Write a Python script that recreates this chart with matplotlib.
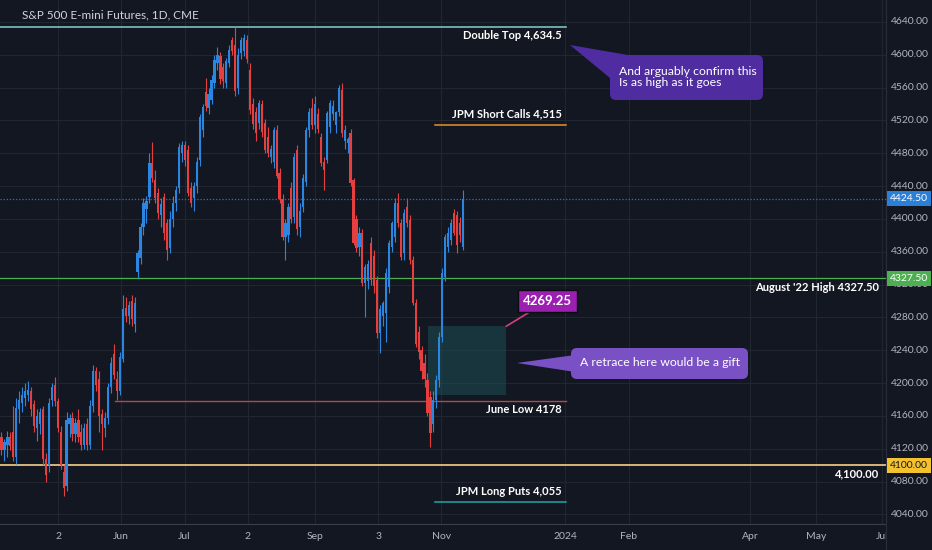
import matplotlib
matplotlib.use('Agg')

import numpy as np
import matplotlib.pyplot as plt
from matplotlib.patches import Rectangle, FancyBboxPatch, Polygon

# ============================================================================
# DATA
# ============================================================================
opens = [4135, 4118, 4125, 4135, 4140, 4110, 4168, 4176, 4182, 4186, 4190, 4175, 4145,
         4150, 4168, 4108, 4100, 4180, 4198, 4178, 4140, 4092, 4075, 4150, 4158, 4138,
         4155, 4140, 4125, 4150, 4125, 4172, 4215, 4205, 4162, 4145, 4158, 4195, 4235,
         4205, 4190, 4230, 4292, 4282, 4300, 4272, 4336, 4352, 4390, 4412, 4427, 4468,
         4448, 4432, 4405, 4427, 4395, 4365, 4400, 4420, 4438, 4480, 4490, 4484, 4438,
         4425, 4440, 4472, 4508, 4555, 4535, 4545, 4566, 4590, 4598, 4585, 4566, 4590,
         4618, 4612, 4560, 4602, 4605, 4618, 4582, 4540, 4530, 4517, 4540, 4517, 4500,
         4475, 4470, 4508, 4456, 4424, 4378, 4380, 4438, 4402, 4484, 4390, 4415, 4445,
         4508, 4535, 4515, 4528, 4500, 4470, 4472, 4512, 4528, 4515, 4530, 4557, 4495,
         4492, 4505, 4447, 4400, 4366, 4383, 4322, 4325, 4371, 4355, 4326, 4261, 4282,
         4285, 4317, 4366, 4378, 4420, 4395, 4358, 4414, 4399, 4350, 4298, 4262, 4240,
         4225, 4204, 4183, 4150, 4180, 4204, 4256, 4329, 4366, 4374, 4407, 4405, 4395,
         4366]
highs = [4140, 4132, 4142, 4140, 4172, 4182, 4190, 4195, 4200, 4203, 4195, 4180, 4168,
         4170, 4172, 4115, 4182, 4200, 4207, 4182, 4148, 4100, 4165, 4162, 4165, 4158,
         4168, 4150, 4152, 4158, 4180, 4222, 4220, 4215, 4168, 4165, 4200, 4232, 4248,
         4215, 4238, 4308, 4305, 4300, 4308, 4305, 4362, 4395, 4425, 4428, 4480, 4494,
         4460, 4438, 4425, 4432, 4400, 4410, 4428, 4440, 4492, 4495, 4495, 4490, 4445,
         4445, 4475, 4528, 4540, 4572, 4560, 4575, 4600, 4610, 4604, 4590, 4596, 4612,
         4622, 4634.5, 4608, 4622, 4625, 4624, 4590, 4548, 4536, 4545, 4545, 4522, 4512,
         4490, 4512, 4515, 4462, 4430, 4400, 4420, 4445, 4480, 4490, 4420, 4455, 4512,
         4535, 4548, 4550, 4535, 4505, 4475, 4532, 4545, 4545, 4532, 4563, 4566, 4515,
         4500, 4510, 4450, 4405, 4390, 4388, 4345, 4350, 4378, 4362, 4330, 4295, 4300,
         4340, 4375, 4398, 4425, 4432, 4400, 4412, 4425, 4405, 4355, 4302, 4270, 4245,
         4235, 4212, 4190, 4190, 4210, 4262, 4340, 4382, 4390, 4400, 4412, 4410, 4402,
         4435]
lows = [4112, 4105, 4110, 4118, 4105, 4102, 4152, 4165, 4172, 4178, 4160, 4140, 4130,
        4138, 4100, 4080, 4092, 4172, 4172, 4140, 4095, 4062, 4068, 4135, 4130, 4128,
        4128, 4118, 4120, 4118, 4120, 4165, 4190, 4140, 4118, 4135, 4150, 4188, 4205,
        4180, 4185, 4226, 4275, 4272, 4270, 4262, 4328, 4345, 4380, 4395, 4420, 4445,
        4420, 4400, 4390, 4375, 4350, 4358, 4390, 4410, 4432, 4470, 4465, 4428, 4415,
        4410, 4432, 4465, 4500, 4532, 4528, 4540, 4560, 4582, 4565, 4560, 4560, 4585,
        4600, 4550, 4552, 4595, 4598, 4590, 4528, 4510, 4495, 4510, 4500, 4480, 4476,
        4468, 4462, 4450, 4420, 4375, 4350, 4372, 4395, 4395, 4380, 4378, 4408, 4440,
        4500, 4510, 4505, 4505, 4465, 4435, 4468, 4505, 4520, 4505, 4525, 4500, 4485,
        4480, 4440, 4368, 4360, 4355, 4318, 4280, 4315, 4320, 4310, 4255, 4237, 4270,
        4250, 4310, 4360, 4372, 4390, 4350, 4350, 4390, 4345, 4295, 4244, 4230, 4205,
        4195, 4160, 4122, 4140, 4170, 4195, 4250, 4325, 4360, 4368, 4380, 4358, 4372,
        4362]
closes = [4118, 4128, 4135, 4124, 4110, 4170, 4180, 4185, 4190, 4192, 4168, 4148, 4160,
          4165, 4108, 4088, 4176, 4195, 4178, 4145, 4100, 4072, 4155, 4158, 4138, 4152,
          4134, 4125, 4145, 4125, 4172, 4215, 4198, 4160, 4150, 4158, 4195, 4225, 4210,
          4190, 4232, 4290, 4282, 4295, 4278, 4298, 4358, 4390, 4420, 4422, 4468, 4450,
          4425, 4407, 4418, 4383, 4362, 4400, 4420, 4435, 4488, 4490, 4472, 4432, 4420,
          4440, 4470, 4524, 4536, 4538, 4552, 4569, 4594, 4600, 4570, 4568, 4592, 4606,
          4605, 4556, 4600, 4618, 4620, 4595, 4533, 4516, 4505, 4541, 4506, 4484, 4480,
          4485, 4508, 4452, 4424, 4378, 4395, 4415, 4400, 4476, 4388, 4410, 4450, 4508,
          4530, 4515, 4540, 4510, 4468, 4460, 4529, 4541, 4538, 4530, 4560, 4505, 4508,
          4498, 4444, 4371, 4365, 4383, 4322, 4341, 4345, 4326, 4318, 4261, 4290, 4298,
          4334, 4371, 4395, 4420, 4395, 4354, 4407, 4395, 4350, 4298, 4248, 4238, 4215,
          4205, 4164, 4139, 4180, 4204, 4256, 4334, 4378, 4383, 4395, 4383, 4368, 4380,
          4424.5]

date_ticks = [19.1, 40.4, 61.9, 83.3, 106.0, 127.3, 148.6, 190.5, 212.1, 253.0, 275.4, 297.7]
date_labels = ['2', 'Jun', 'Jul', '2', 'Sep', '3', 'Nov', '2024', 'Feb', 'Apr', 'May', 'Jul']
price_ticks = [4040, 4080, 4120, 4160, 4200, 4240, 4280, 4320, 4360, 4400,
               4440, 4480, 4520, 4560, 4600, 4640]

last_price = 4424.5
aug22_high = 4327.5
round_level = 4100.0
double_top = 4634.5
jpm_calls = 4515
jpm_puts = 4055
june_low = 4178
zone_top, zone_bottom = 4269.25, 4186
zone_start, zone_end = 144.2, 170.6
seg_end = 190.8          # drawings stop at the 2024 gridline
seg_start_jpm = 146.6

# ============================================================================
# STYLE
# ============================================================================
BG = '#131722'
GRID = '#222631'
TXT = '#b2b5be'
UP = '#2a86e0'
DOWN = '#e5403f'
plt.rcParams['font.family'] = ['Lato', 'DejaVu Sans']

W, H = 932, 550
fig = plt.figure(figsize=(W / 100, H / 100), dpi=100, facecolor=BG)
ax = fig.add_axes([0, 26 / H, 886 / W, 524 / H], facecolor=BG)
ax.set_xlim(-0.507, 299.0)
ax.set_ylim(4028.4, 4666.8)

# grid
for p in price_ticks:
    ax.axhline(p, color=GRID, lw=0.8, zorder=0)
for t in date_ticks:
    ax.axvline(t, color=GRID, lw=0.8, zorder=0)

# candles
idx = np.arange(len(closes))
o = np.array(opens); h = np.array(highs); l = np.array(lows); c = np.array(closes)
cols = np.where(c >= o, UP, DOWN)
ax.vlines(idx, l, h, colors=cols, lw=0.8, zorder=3)
ax.bar(idx, np.maximum(np.abs(c - o), 0.8), bottom=np.minimum(o, c), width=0.74,
       color=cols, linewidth=0, zorder=4)

# horizontal levels
ax.axhline(last_price, color='#2f6fc0', lw=0.9, ls=(0, (1, 1.5)), zorder=2)
ax.axhline(aug22_high, color='#4caf50', lw=0.9, zorder=2)
ax.axhline(round_level, color='#e6c27e', lw=1.3, zorder=2)
ax.plot([-1, seg_end], [double_top, double_top], color='#86cfcf', lw=1.1, zorder=2)
ax.plot([seg_start_jpm, seg_end], [jpm_calls, jpm_calls], color='#e8912d', lw=1.1, zorder=2)
ax.plot([38.4, seg_end], [june_low, june_low], color='#b5474a', lw=1.0, zorder=2)
ax.plot([seg_start_jpm, seg_end], [jpm_puts, jpm_puts], color='#1fa6a6', lw=1.1, zorder=2)

# retrace zone
ax.add_patch(Rectangle((zone_start, zone_bottom), zone_end - zone_start, zone_top - zone_bottom,
                       facecolor='#1d4a52', alpha=0.6, edgecolor='none', zorder=1))

lab = dict(color='white', fontsize=8, fontweight='bold', ha='right', va='center',
           textcoords='offset points', zorder=6)
ax.annotate('Double Top 4,634.5', xy=(seg_end, double_top), xytext=(-3, -6.2), **lab)
ax.annotate('JPM Short Calls 4,515', xy=(seg_end, jpm_calls), xytext=(-3, 7.5), **lab)
ax.annotate('June Low 4178', xy=(seg_end, june_low), xytext=(-3, -6.2), **lab)
ax.annotate('JPM Long Puts 4,055', xy=(seg_end, jpm_puts), xytext=(-3, 7.5), **lab)
ytr = ax.get_yaxis_transform()
ax.annotate("August '22 High 4327.50", xy=(0.992, aug22_high), xycoords=ytr,
            xytext=(0, -6.2), **lab)
ax.annotate('4,100.00', xy=(0.992, round_level), xycoords=ytr, xytext=(0, -6.2), **lab)

# 4269.25 tag pointing at the zone corner
ax.annotate('4269.25', xy=(zone_end, zone_top), xytext=(184.6, 4300.1),
            color='white', fontsize=9.5, fontweight='bold', ha='center', va='center',
            bbox=dict(boxstyle='square,pad=0.35', fc='#9b1fb0', ec='#0c0c12', lw=1),
            arrowprops=dict(arrowstyle='-', color='#d0407f', lw=1.2, shrinkA=0, shrinkB=0),
            zorder=7)

# axes cosmetics
for s in ['top', 'left', 'right']:
    ax.spines[s].set_visible(False)
ax.spines['bottom'].set_color('#3a3e49')
ax.set_yticks([])
ax.set_xticks(date_ticks)
ax.set_xticklabels(date_labels)
ax.tick_params(axis='x', length=0, pad=6, labelsize=7.5, labelcolor=TXT)

ax.text(7, 4666.8 - 15 / 0.8208, 'S&P 500 E-mini Futures, 1D, CME', color='#d1d4dc',
        fontsize=8.5, va='center', ha='left', transform=ax.transData, zorder=8)

# price scale column
ax2 = fig.add_axes([886 / W, 0, 46 / W, 1], facecolor=BG, zorder=5)
ax2.set_xlim(0, 1)
ax2.set_ylim(3996.7, 4666.8)
ax2.set_xticks([]); ax2.set_yticks([])
for s in ['top', 'right', 'bottom']:
    ax2.spines[s].set_visible(False)
ax2.spines['left'].set_color('#2a2e39')
for p in price_ticks:
    ax2.text(0.1, p, f'{p:.2f}', color=TXT, fontsize=7.5, va='center', ha='left')
for val, fc, tc in [(last_price, '#2a7fd8', 'white'), (aug22_high, '#4caf50', 'white'),
                    (round_level, '#f5c22f', '#131722')]:
    ax2.text(0.5, val, f'{val:.2f}', color=tc, fontsize=7.5, va='center', ha='center',
             bbox=dict(boxstyle='square,pad=0.3', fc=fc, ec='none'), zorder=6)

# speech-bubble callouts (figure pixel overlay)
ov = fig.add_axes([0, 0, 1, 1], zorder=10)
ov.set_xlim(0, W); ov.set_ylim(H, 0); ov.axis('off')

c1 = '#4f2c9f'
ov.add_patch(Polygon([(570, 45), (628, 55), (610, 78)], closed=True, fc=c1, ec='none'))
ov.add_patch(FancyBboxPatch((610, 55), 153, 45, boxstyle='round,pad=0,rounding_size=6',
                            fc=c1, ec='none'))
ov.text(619, 77, 'And arguably confirm this\nIs as high as it goes', color='white',
        fontsize=8.8, va='center', ha='left', linespacing=1.05)

c2 = '#7a51c4'
ov.add_patch(Polygon([(517, 363), (575, 355), (575, 372)], closed=True, fc=c2, ec='none'))
ov.add_patch(FancyBboxPatch((571, 348), 177, 31, boxstyle='round,pad=0,rounding_size=6',
                            fc=c2, ec='none'))
ov.text(659.5, 363, 'A retrace here would be a gift', color='white', fontsize=8.8,
        va='center', ha='center')

fig.savefig('out.png', dpi=100, facecolor=BG)
plt.close(fig)
